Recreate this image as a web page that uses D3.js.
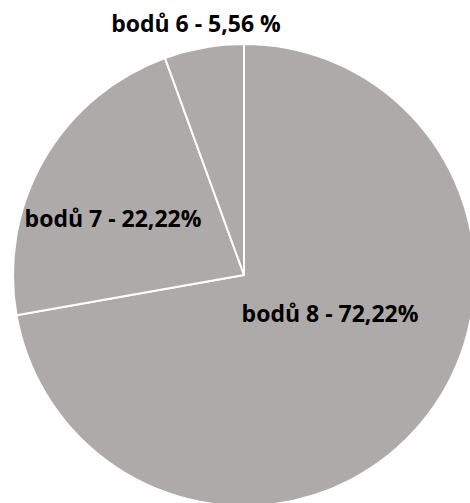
<!DOCTYPE html>
<html><head><meta charset="utf-8">
<script src="https://cdn.jsdelivr.net/npm/d3@7"></script>
<style>html,body{margin:0;padding:0;background:#fff;}svg{display:block;}</style>
</head><body>
<svg id="chart" width="470" height="503"></svg>
<script>
const categories = ["bodů 8", "bodů 7", "bodů 6"];
const values = [72.22, 22.22, 5.56];
const labels = ["bodů 8 - 72,22%", "bodů 7 - 22,22%", "bodů 6 - 5,56 %"];

// layout (label baseline anchor positions relative to pie centre)
const labelPos = [[86, 47], [-131, -48], [-48, -243]];

const W = 470, H = 503, cx = 244, cy = 275, R = 231;
const svg = d3.select("#chart");
const g = svg.append("g").attr("transform", `translate(${cx},${cy})`);

const pie = d3.pie().sort(null).value(d => d.v);
const data = categories.map((c, i) => ({c, v: values[i], label: labels[i]}));
const arcs = pie(data);
const arc = d3.arc().innerRadius(0).outerRadius(R);

g.selectAll("path").data(arcs).enter().append("path")
  .attr("d", arc).attr("fill", "#AEAAAA")
  .attr("stroke", "#fff").attr("stroke-width", 2).attr("stroke-linejoin", "round");

g.selectAll("text").data(arcs).enter().append("text")
  .attr("x", (d, i) => labelPos[i][0]).attr("y", (d, i) => labelPos[i][1])
  .attr("text-anchor", "middle")
  .attr("font-family", "Open Sans, sans-serif").attr("font-weight", "bold")
  .attr("font-size", 23).attr("fill", "#000")
  .text(d => d.data.label);
</script>
</body></html>
